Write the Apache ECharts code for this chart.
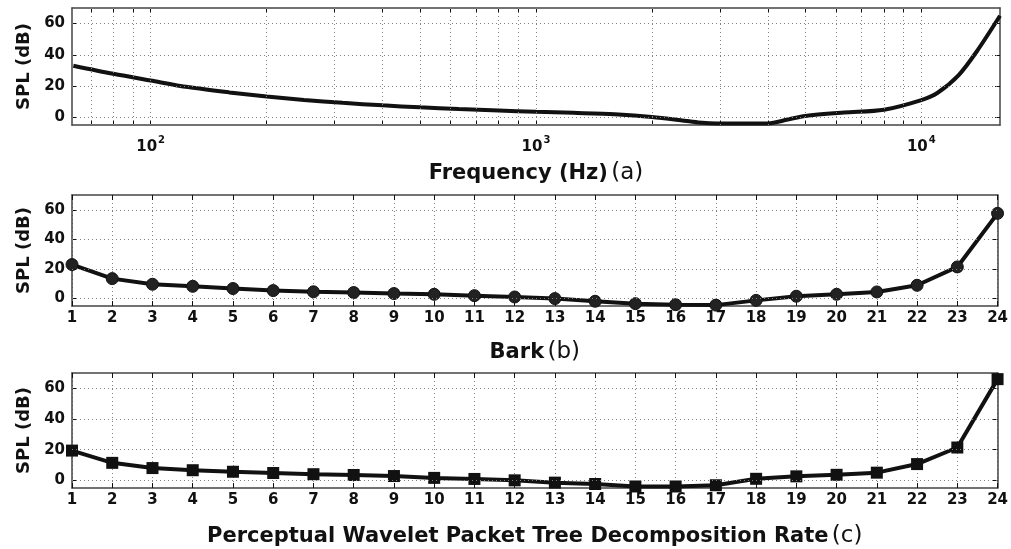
<!DOCTYPE html>
<html><head><meta charset="utf-8">
<script src="https://cdn.jsdelivr.net/npm/echarts@6/dist/echarts.min.js"></script>
<style>html,body{margin:0;padding:0;background:#fff}#c{width:1011px;height:549px}</style>
</head><body><div id="c"></div>
<script>
// ---- data ----
const freqHz  = [63, 80, 100, 125, 160, 200, 250, 315, 400, 500, 630, 800, 1000, 1250, 1600, 2000, 2500, 2700, 3150, 4000, 4500, 5000, 6300, 8000, 10000, 11000, 12500, 14000, 16000];
const splFreq = [33, 27.8, 23.5, 19.3, 15.9, 13.3, 11.1, 9.2, 7.6, 6.3, 5.2, 4.3, 3.5, 2.8, 1.9, 0.2, -2.6, -3.5, -4.1, -4.0, -1.5, 0.8, 3.0, 4.8, 11.0, 15.5, 27, 43, 65];
const barkBands = [1,2,3,4,5,6,7,8,9,10,11,12,13,14,15,16,17,18,19,20,21,22,23,24];
const splBark  = [23, 13.5, 9.7, 8.3, 6.8, 5.4, 4.6, 4.1, 3.4, 2.9, 2.0, 1.1, 0, -1.8, -3.4, -4.1, -4.4, -1.2, 1.6, 2.9, 4.5, 9.0, 21.4, 57.6];
const pwptRates = [1,2,3,4,5,6,7,8,9,10,11,12,13,14,15,16,17,18,19,20,21,22,23,24];
const splPwpt  = [19.4, 11.4, 8.0, 6.6, 5.6, 4.8, 4.0, 3.5, 2.8, 1.6, 0.9, 0, -1.5, -2.4, -4.0, -4.0, -3.2, 1.0, 2.6, 3.6, 5.0, 10.6, 21.4, 66];
const yTicks = [0, 20, 40, 60];
const freqGrid = [70, 80, 90, 100, 200, 300, 400, 500, 600, 700, 800, 900, 1000, 2000, 3000, 4000, 5000, 6000, 7000, 8000, 9000, 10000];
const freqLabels = [100, 1000, 10000];
const xTitles = ['Frequency (Hz)', 'Bark', 'Perceptual Wavelet Packet Tree Decomposition Rate'];
const xTags = ['(a)', '(b)', '(c)'];
const yTitle = 'SPL (dB)';

// ---- styling ----
const FONT = 'DejaVu Sans';
const INK = '#111';
const FRAME = '#444';
const DOT = {type: [1, 3], color: '#808080', width: 1};
const grids = [
  {left: 72, right: 11, top: 8, height: 117},
  {left: 72, right: 11, top: 195, height: 111},
  {left: 72, right: 11, top: 373, height: 124}
];
const nameGaps = [37, 35, 37];
const tickFont = {fontFamily: FONT, fontWeight: 'bold', fontSize: 15, color: INK};

const xAxes = [], yAxes = [], series = [];

grids.forEach((g, i) => {
  const isLog = i === 0;
  const nameRich = {
    b: {fontFamily: FONT, fontWeight: 'bold', fontSize: 21, color: INK},
    n: {fontFamily: FONT, fontWeight: 'normal', fontSize: 23, color: INK}
  };
  const common = isLog
    ? {type: 'log', logBase: 10, min: 62.5, max: 16000}
    : {type: 'value', min: 1, max: 24, interval: 1};
  xAxes.push(Object.assign({}, common, {
    gridIndex: i, position: 'bottom',
    name: '{b|' + xTitles[i] + '} {n|' + xTags[i] + '}',
    nameLocation: 'middle', nameGap: nameGaps[i],
    nameTextStyle: {rich: nameRich},
    axisLine: {show: true, onZero: false, lineStyle: {color: FRAME, width: 1.5}},
    axisTick: isLog ? {show: true, inside: true, length: 5, customValues: freqGrid, lineStyle: {color: INK}}
                    : {show: true, inside: true, length: 5, lineStyle: {color: INK}},
    axisLabel: isLog ? {
        customValues: freqLabels, margin: 10,
        formatter: v => '{b|10}{s|' + Math.round(Math.log10(v)) + '}',
        rich: {
          b: {fontFamily: FONT, fontWeight: 'bold', fontSize: 15, color: INK, verticalAlign: 'bottom'},
          s: {fontFamily: FONT, fontWeight: 'bold', fontSize: 10, color: INK, verticalAlign: 'top', padding: [0, 0, 10, 1]}
        }
      } : Object.assign({margin: 5}, tickFont),
    splitLine: isLog ? {show: false} : {show: true, lineStyle: DOT}
  }));
  xAxes.push(Object.assign({}, common, {
    gridIndex: i, position: 'top',
    axisLine: {show: true, onZero: false, lineStyle: {color: FRAME, width: 1.5}},
    axisTick: isLog ? {show: true, inside: true, length: 5, customValues: freqGrid, lineStyle: {color: INK}}
                    : {show: true, inside: true, length: 5, lineStyle: {color: INK}},
    axisLabel: {show: false},
    splitLine: {show: false}
  }));
  yAxes.push({
    type: 'value', gridIndex: i, position: 'left', min: -5, max: 70,
    name: yTitle, nameLocation: 'middle', nameGap: 36,
    nameTextStyle: {fontFamily: FONT, fontWeight: 'bold', fontSize: 18, color: INK},
    axisLine: {show: true, onZero: false, lineStyle: {color: FRAME, width: 1.5}},
    axisTick: {show: true, inside: true, length: 5, customValues: yTicks, lineStyle: {color: INK}},
    axisLabel: Object.assign({customValues: yTicks, margin: 7}, tickFont),
    splitLine: {show: false}
  });
  yAxes.push({
    type: 'value', gridIndex: i, position: 'right', min: -5, max: 70,
    axisLine: {show: true, onZero: false, lineStyle: {color: FRAME, width: 1.5}},
    axisTick: {show: true, inside: true, length: 5, customValues: yTicks, lineStyle: {color: INK}},
    axisLabel: {show: false},
    splitLine: {show: false}
  });
  const mlData = yTicks.map(v => ({yAxis: v}));
  if (isLog) freqGrid.forEach(f => mlData.push({xAxis: f}));
  series.push({
    type: 'line', xAxisIndex: 2 * i, yAxisIndex: 2 * i, data: [], z: 1,
    silent: true, animation: false,
    markLine: {silent: true, symbol: ['none', 'none'], label: {show: false},
      lineStyle: DOT, emphasis: {disabled: true}, animation: false, data: mlData}
  });
});

series.push({
  type: 'line', xAxisIndex: 0, yAxisIndex: 0, z: 3, animation: false,
  data: freqHz.map((f, k) => [f, splFreq[k]]),
  showSymbol: false, symbol: 'none', smooth: 0.3,
  lineStyle: {color: INK, width: 4}
});
series.push({
  type: 'line', xAxisIndex: 2, yAxisIndex: 2, z: 3, animation: false,
  data: barkBands.map((b, k) => [b, splBark[k]]),
  symbol: 'circle', symbolSize: 12,
  lineStyle: {color: INK, width: 4},
  itemStyle: {color: '#222', borderColor: INK, borderWidth: 1}
});
series.push({
  type: 'line', xAxisIndex: 4, yAxisIndex: 4, z: 3, animation: false,
  data: pwptRates.map((r, k) => [r, splPwpt[k]]),
  symbol: 'rect', symbolSize: 12,
  lineStyle: {color: INK, width: 4},
  itemStyle: {color: INK}
});

const chart = echarts.init(document.getElementById('c'), null, {renderer: 'canvas'});
chart.setOption({
  animation: false,
  backgroundColor: '#fff',
  grid: grids,
  xAxis: xAxes,
  yAxis: yAxes,
  series: series
});
</script></body></html>
